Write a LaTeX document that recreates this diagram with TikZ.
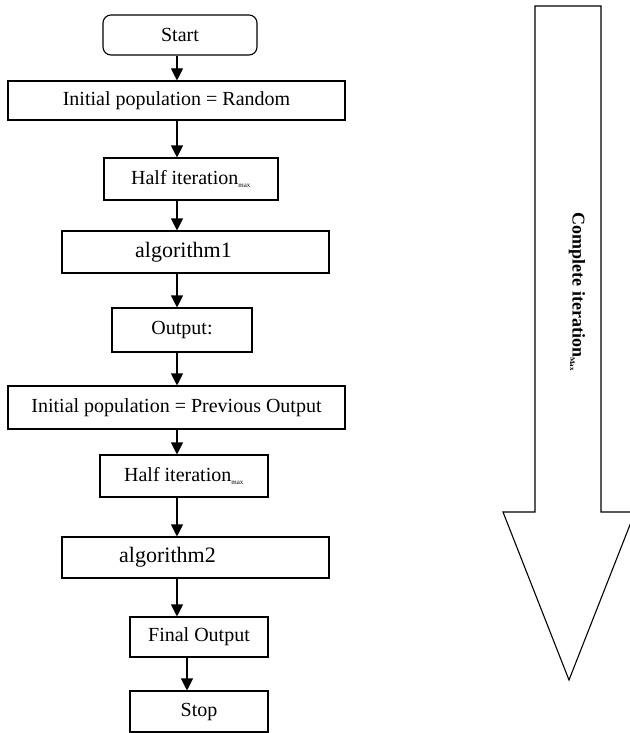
\documentclass[tikz,border=0pt]{standalone}
\usepackage{fontspec}
\setmainfont{Liberation Serif}
\usetikzlibrary{arrows.meta}

\newcommand{\maxtag}[1]{\textsubscript{\fontsize{7}{8}\selectfont #1}}

\tikzset{
  box/.style={draw, line width=1.1pt, inner sep=0pt, font=\fontsize{20}{24}\selectfont},
  algbox/.style={box, font=\fontsize{22}{26}\selectfont},
  flow/.style={-{Triangle[width=12pt,length=12pt]}, line width=1.1pt},
}

\begin{document}
\begin{tikzpicture}[x=1pt, y=-1pt]
\useasboundingbox (0,0) rectangle (629,733);
\coordinate (axis) at (177,0);
\coordinate (axisB) at (187,0);

\node[box, rounded corners=8pt, minimum width=154pt, minimum height=40pt] (start) at (180,35) {Start};
\node[box, minimum width=337pt, minimum height=39pt] (initA) at (176.5,100.5) {Initial population = Random};
\node[box, minimum width=174pt, minimum height=42pt] (halfA) at (191,179) {Half iteration\maxtag{max}};
\node[algbox, minimum width=267pt, minimum height=42pt] (algA) at (195.5,252) {algorithm1\hspace*{24pt}};
\node[box, minimum width=140pt, minimum height=44pt] (outA) at (182,330) {Output:};
\node[box, minimum width=337pt, minimum height=43pt] (initB) at (176.5,407.5) {Initial population = Previous Output};
\node[box, minimum width=168pt, minimum height=42pt] (halfB) at (184,476) {Half iteration\maxtag{max}};
\node[algbox, minimum width=267pt, minimum height=41pt] (algB) at (195.5,557.5) {algorithm2\hspace*{56pt}};
\node[box, minimum width=138pt, minimum height=40pt] (final) at (199,637) {Final Output};
\node[box, minimum width=138pt, minimum height=41pt] (stop) at (199,711.5) {Stop};

\draw[flow] (start.south -| axis) -- (initA.north -| axis);
\draw[flow] (initA.south -| axis) -- (halfA.north -| axis);
\draw[flow] (halfA.south -| axis) -- (algA.north -| axis);
\draw[flow] (algA.south -| axis) -- (outA.north -| axis);
\draw[flow] (outA.south -| axis) -- (initB.north -| axis);
\draw[flow] (initB.south -| axis) -- (halfB.north -| axis);
\draw[flow] (halfB.south -| axis) -- (algB.north -| axis);
\draw[flow] (algB.south -| axis) -- (final.north -| axis);
\draw[flow] (final.south -| axisB) -- (stop.north -| axisB);

% big arrow on the right
\draw[line width=1.1pt] (535,6) -- (601,6) -- (601,512) -- (635,512) -- (569,680)
  -- (503,512) -- (535,512) -- cycle;
\node[rotate=-90, font=\bfseries\fontsize{18}{22}\selectfont] (loopnote) at (577,292)
  {Complete iteration\maxtag{Max}};
\end{tikzpicture}
\end{document}
